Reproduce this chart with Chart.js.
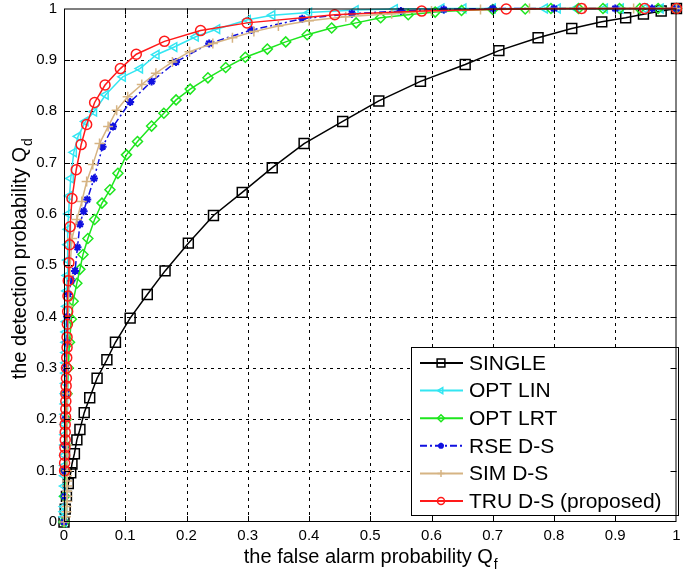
<!DOCTYPE html>
<html>
<head>
<meta charset="utf-8">
<script src="https://cdn.jsdelivr.net/npm/chart.js"></script>
<style>
  html, body { margin: 0; padding: 0; background: #fff; }
  #wrap { width: 685px; height: 576px; }
</style>
</head>
<body>
<div id="wrap"><canvas id="rocChart" width="685" height="576"></canvas></div>
<script>
// values (Qf, Qd)
const seriesNames = ['SINGLE', 'OPT LIN', 'OPT LRT', 'RSE D-S', 'SIM D-S', 'TRU D-S (proposed)'];

const singleX = [0, 0.002, 0.004, 0.007, 0.011, 0.013, 0.017, 0.021, 0.026, 0.033, 0.042, 0.054, 0.07, 0.084, 0.108, 0.136, 0.165,
  0.203, 0.244, 0.291, 0.34, 0.392, 0.455, 0.514, 0.582, 0.655, 0.71, 0.774, 0.829, 0.878, 0.917, 0.946, 0.975, 1];
const singleY = [0, 0.025, 0.05, 0.075, 0.096, 0.113, 0.133, 0.16, 0.18, 0.213, 0.242, 0.28, 0.316, 0.35, 0.397, 0.443, 0.489,
  0.543, 0.597, 0.642, 0.69, 0.737, 0.78, 0.82, 0.858, 0.891, 0.918, 0.943, 0.961, 0.974, 0.982, 0.989, 0.995, 1];

const linX = [0, 0, 0, 0.0003, 0.0005, 0.0006, 0.0008, 0.001, 0.001, 0.0012, 0.0013, 0.0015, 0.0016, 0.0018, 0.002, 0.0022, 0.0024,
  0.0026, 0.0028, 0.003, 0.0032, 0.0035, 0.004, 0.0045, 0.005, 0.0055, 0.006, 0.0065, 0.0075, 0.009, 0.011, 0.016, 0.023, 0.035,
  0.049, 0.068, 0.096, 0.124, 0.151, 0.18, 0.215, 0.25, 0.3, 0.34, 0.4, 0.476, 0.54, 0.616, 0.652, 0.7, 0.785, 0.806, 0.836,
  0.883, 0.909, 0.948, 0.974];
const linY = [0, 0.01, 0.02, 0.03, 0.05, 0.07, 0.09, 0.11, 0.13, 0.15, 0.17, 0.19, 0.21, 0.23, 0.25, 0.27, 0.29,
  0.31, 0.33, 0.35, 0.37, 0.39, 0.42, 0.45, 0.48, 0.51, 0.54, 0.57, 0.6, 0.635, 0.669, 0.72, 0.751, 0.78,
  0.799, 0.832, 0.867, 0.883, 0.91, 0.925, 0.945, 0.96, 0.978, 0.987, 0.992, 0.997, 0.999, 1, 1, 1, 1, 1, 1,
  1, 1, 1, 1];

const lrtX = [0, 0.001, 0.002, 0.003, 0.004, 0.005, 0.007, 0.009, 0.012, 0.015, 0.021, 0.026, 0.031, 0.039, 0.05,
  0.062, 0.075, 0.088, 0.102, 0.12, 0.143, 0.163, 0.183, 0.206, 0.235, 0.264, 0.296, 0.332, 0.362, 0.397,
  0.437, 0.477, 0.517, 0.562, 0.606, 0.649, 0.7, 0.753, 0.795, 0.84, 0.88, 0.907, 0.94, 0.97, 1];
const lrtY = [0, 0.05, 0.1, 0.15, 0.2, 0.25, 0.3, 0.35, 0.395, 0.43, 0.465, 0.492, 0.521, 0.552, 0.589,
  0.621, 0.647, 0.679, 0.715, 0.741, 0.771, 0.796, 0.822, 0.843, 0.865, 0.885, 0.905, 0.921, 0.935, 0.949,
  0.962, 0.972, 0.982, 0.988, 0.993, 0.996, 0.998, 0.999, 1, 1, 1, 1, 1, 1, 1];

const rseX = [0, 0.001, 0.001, 0.002, 0.002, 0.003, 0.003, 0.004, 0.005, 0.007, 0.012, 0.018, 0.022, 0.026, 0.032,
  0.038, 0.049, 0.063, 0.08, 0.108, 0.143, 0.183, 0.237, 0.306, 0.389, 0.47, 0.55, 0.62, 0.7, 0.8, 0.9, 0.96, 1];
const rseY = [0, 0.05, 0.1, 0.15, 0.2, 0.25, 0.3, 0.35, 0.4, 0.444, 0.47, 0.489, 0.535, 0.58, 0.605,
  0.628, 0.669, 0.731, 0.77, 0.818, 0.858, 0.896, 0.932, 0.958, 0.98, 0.99, 0.995, 0.998, 1, 1, 1, 1, 1];

const simX = [0, 0.003, 0.004, 0.004, 0.005, 0.005, 0.005, 0.005, 0.005, 0.005, 0.005, 0.005, 0.005, 0.005, 0.006,
  0.006, 0.007, 0.009, 0.013, 0.021, 0.029, 0.037, 0.047, 0.058, 0.072, 0.086, 0.104, 0.127, 0.15, 0.177,
  0.205, 0.243, 0.275, 0.31, 0.35, 0.4, 0.46, 0.535, 0.6, 0.68, 0.76, 0.85, 0.93, 1];
const simY = [0, 0.01, 0.02, 0.03, 0.04, 0.05, 0.06, 0.07, 0.08, 0.09, 0.1, 0.15, 0.2, 0.25, 0.3,
  0.35, 0.42, 0.48, 0.552, 0.589, 0.624, 0.663, 0.696, 0.737, 0.77, 0.802, 0.828, 0.852, 0.874, 0.896,
  0.916, 0.932, 0.943, 0.955, 0.966, 0.976, 0.984, 0.99, 0.995, 0.998, 1, 1, 1, 1];

const truX = [0.001, 0.001, 0.001, 0.0015, 0.002, 0.002, 0.002, 0.0025, 0.003, 0.003, 0.003, 0.0035, 0.004, 0.004,
  0.0045, 0.005, 0.005, 0.0055, 0.006, 0.0065, 0.007, 0.008, 0.009, 0.01, 0.013, 0.02, 0.028, 0.037,
  0.05, 0.067, 0.092, 0.118, 0.164, 0.223, 0.299, 0.442, 0.584, 0.722, 0.845, 0.948, 1];
const truY = [0.1, 0.115, 0.13, 0.145, 0.16, 0.175, 0.19, 0.205, 0.22, 0.235, 0.25, 0.265, 0.28, 0.3,
  0.32, 0.34, 0.36, 0.385, 0.41, 0.44, 0.47, 0.505, 0.54, 0.575, 0.63, 0.686, 0.735, 0.774,
  0.817, 0.851, 0.883, 0.911, 0.936, 0.957, 0.972, 0.988, 0.995, 0.999, 1, 1, 1];

const xTickLabels = ['0', '0.1', '0.2', '0.3', '0.4', '0.5', '0.6', '0.7', '0.8', '0.9', '1'];
const yTickLabels = ['0', '0.1', '0.2', '0.3', '0.4', '0.5', '0.6', '0.7', '0.8', '0.9', '1'];

const FONT = '"Liberation Sans", Arial, sans-serif';

function pts(xs, ys) {
  return xs.map((x, i) => ({ x: x, y: ys[i] }));
}

function series(i, xs, ys, color, style, radius, extra) {
  return Object.assign({
    label: seriesNames[i],
    data: pts(xs, ys),
    borderColor: color,
    borderWidth: 1.5,
    pointStyle: style,
    pointRadius: radius,
    pointBorderColor: color,
    pointBackgroundColor: 'rgba(0,0,0,0)',
    pointBorderWidth: 1.5,
    pointHoverRadius: radius,
    tension: 0,
    clip: false
  }, extra || {});
}

const datasets = [
  series(0, singleX, singleY, '#000000', 'rect', 7, { order: 6 }),
  series(1, linX, linY, '#33e6f2', 'triangle', 5, { order: 5, pointRotation: -90 }),
  series(2, lrtX, lrtY, '#1ee61e', 'rectRot', 5, { order: 4 }),
  series(3, rseX, rseY, '#1010e0', 'star', 4, { order: 3, borderDash: [7, 3, 2, 3], pointBorderWidth: 2 }),
  series(4, simX, simY, '#d6b483', 'cross', 5, { order: 2 }),
  series(5, truX, truY, '#ff1a1a', 'circle', 5, { order: 1 })
];

function drawMarker(ctx, ds, x, y, r) {
  ctx.save();
  ctx.strokeStyle = ds.pointBorderColor;
  ctx.fillStyle = 'rgba(0,0,0,0)';
  ctx.lineWidth = ds.pointBorderWidth;
  ctx.setLineDash([]);
  Chart.helpers.drawPoint(ctx, {
    pointStyle: ds.pointStyle, rotation: ds.pointRotation || 0, radius: r, borderWidth: ds.pointBorderWidth
  }, x, y);
  ctx.restore();
}

// dotted MATLAB style grid
const dottedGrid = {
  id: 'dottedGrid',
  beforeDatasetsDraw(chart) {
    const ctx = chart.ctx;
    const a = chart.chartArea;
    const xs = chart.scales.x, ys = chart.scales.y;
    ctx.save();
    ctx.strokeStyle = '#000';
    ctx.lineWidth = 1;
    ctx.setLineDash([3, 4]);
    ctx.beginPath();
    for (let k = 1; k < 10; k++) {
      const px = Math.round(xs.getPixelForValue(k / 10)) + 0.5;
      ctx.moveTo(px, a.bottom); ctx.lineTo(px, a.top);
      const py = Math.round(ys.getPixelForValue(k / 10)) + 0.5;
      ctx.moveTo(a.left, py); ctx.lineTo(a.right, py);
    }
    ctx.stroke();
    ctx.restore();
  }
};

const matlabFrame = {
  id: 'matlabFrame',
  afterDatasetsDraw(chart) {
    const ctx = chart.ctx;
    const a = chart.chartArea;
    const xs = chart.scales.x, ys = chart.scales.y;
    ctx.save();

    // legend box, bottom right inside the axes
    const lx = 411, ly = 347, lw = 267, lh = 168;
    ctx.fillStyle = '#fff';
    ctx.fillRect(lx, ly, lw, lh);
    ctx.strokeStyle = '#000';
    ctx.lineWidth = 1;
    ctx.strokeRect(lx + 0.5, ly + 0.5, lw, lh);
    chart.data.datasets.forEach((ds, i) => {
      const cy = 363 + i * 27.6;
      ctx.save();
      ctx.strokeStyle = ds.borderColor;
      ctx.lineWidth = 2;
      ctx.setLineDash(ds.borderDash || []);
      ctx.beginPath();
      ctx.moveTo(420, cy);
      ctx.lineTo(463, cy);
      ctx.stroke();
      ctx.restore();
      drawMarker(ctx, ds, 441, cy, Math.max(3, ds.pointRadius - 1.5));
      ctx.fillStyle = '#000';
      ctx.font = '21px ' + FONT;
      ctx.textAlign = 'left';
      ctx.textBaseline = 'middle';
      ctx.fillText(ds.label, 469, cy + 1);
    });

    // solid box and inward ticks
    ctx.strokeStyle = '#000';
    ctx.lineWidth = 1;
    ctx.setLineDash([]);
    ctx.strokeRect(a.left + 0.5, a.top + 0.5, a.right - a.left - 1, a.bottom - a.top - 1);
    ctx.beginPath();
    for (let k = 1; k < 10; k++) {
      const px = Math.round(xs.getPixelForValue(k / 10)) + 0.5;
      ctx.moveTo(px, a.bottom); ctx.lineTo(px, a.bottom - 6);
      ctx.moveTo(px, a.top); ctx.lineTo(px, a.top + 6);
      const py = Math.round(ys.getPixelForValue(k / 10)) + 0.5;
      ctx.moveTo(a.left, py); ctx.lineTo(a.left + 6, py);
      ctx.moveTo(a.right, py); ctx.lineTo(a.right - 6, py);
    }
    ctx.stroke();

    // axis titles with subscripts
    function subText(main, sub, cx, by) {
      ctx.font = '20px ' + FONT;
      const w1 = ctx.measureText(main).width;
      ctx.font = '14px ' + FONT;
      const w2 = ctx.measureText(sub).width;
      const x0 = cx - (w1 + w2) / 2;
      ctx.fillStyle = '#000';
      ctx.textAlign = 'left';
      ctx.textBaseline = 'alphabetic';
      ctx.font = '20px ' + FONT;
      ctx.fillText(main, x0, by);
      ctx.font = '14px ' + FONT;
      ctx.fillText(sub, x0 + w1 + 1, by + 6);
    }
    subText('the false alarm probability Q', 'f', (a.left + a.right) / 2, 563);
    ctx.save();
    ctx.translate(26, (a.top + a.bottom) / 2 - 6);
    ctx.rotate(-Math.PI / 2);
    subText('the detection probability Q', 'd', 0, 0);
    ctx.restore();

    ctx.restore();
  }
};

new Chart(document.getElementById('rocChart'), {
  type: 'line',
  data: { datasets: datasets },
  options: {
    responsive: false,
    animation: false,
    parsing: false,
    layout: { padding: 0 },
    plugins: { legend: { display: false }, tooltip: { enabled: false } },
    scales: {
      x: {
        type: 'linear',
        min: 0, max: 1,
        border: { display: false },
        grid: { display: false, drawTicks: false },
        ticks: {
          stepSize: 0.1,
          padding: 5,
          maxRotation: 0,
          color: '#000',
          font: { family: FONT, size: 15 },
          callback: (v, i) => xTickLabels[i]
        },
        afterFit: s => { s.height = 54; s.paddingRight = 5; s.paddingLeft = 0; }
      },
      y: {
        type: 'linear',
        min: 0, max: 1,
        border: { display: false },
        grid: { display: false, drawTicks: false },
        ticks: {
          stepSize: 0.1,
          padding: 7,
          color: '#000',
          font: { family: FONT, size: 15 },
          callback: (v, i) => yTickLabels[i]
        },
        afterFit: s => { s.width = 64; s.paddingTop = 7; s.paddingBottom = 0; }
      }
    }
  },
  plugins: [dottedGrid, matlabFrame]
});
</script>
</body>
</html>
